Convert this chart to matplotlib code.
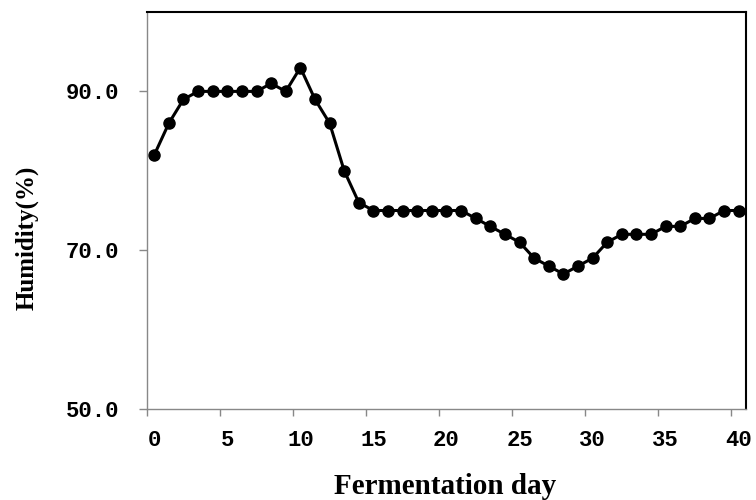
import matplotlib
matplotlib.use("Agg")
import matplotlib.pyplot as plt
import numpy as np

days = list(range(0, 41))
humidity = [82, 86, 89, 90, 90, 90, 90, 90, 91, 90,
            93, 89, 86, 80, 76, 75, 75, 75, 75, 75,
            75, 75, 74, 73, 72, 71, 69, 68, 67, 68,
            69, 71, 72, 72, 72, 73, 73, 74, 74, 75, 75]
x_labels = [0, 5, 10, 15, 20, 25, 30, 35, 40]
y_ticks = [50, 70, 90]

fig = plt.figure(figsize=(7.56, 5.0), dpi=100)
ax = fig.add_axes([0.1944, 0.182, 0.7924, 0.794])

ax.plot(days, humidity, color="black", lw=2.2, marker="o", markersize=8,
        markerfacecolor="black", markeredgecolor="black")

ax.set_xlim(-0.5, 40.5)
ax.set_ylim(50, 100)

# tick marks between categories (Excel style), labels centered on categories
ax.set_xticks([t - 0.5 for t in x_labels])
ax.set_xticklabels([])
ax.set_xticks(x_labels, minor=True)
ax.set_xticklabels([str(v) for v in x_labels], minor=True)
ax.tick_params(axis="x", which="major", direction="out", length=5, width=1, color="#888888")
ax.tick_params(axis="x", which="minor", length=0, pad=15)

ax.set_yticks(y_ticks)
ax.set_yticklabels([f"{v:.1f}" for v in y_ticks])
ax.tick_params(axis="y", direction="out", length=6, width=1, color="#888888", pad=14)

for lab in ax.get_xticklabels(minor=True) + ax.get_yticklabels():
    lab.set_fontfamily("Liberation Mono")
    lab.set_fontweight("bold")
    lab.set_fontsize(16)

for s in ["left", "bottom"]:
    ax.spines[s].set_color("#888888")
    ax.spines[s].set_linewidth(1.0)
for s in ["top", "right"]:
    ax.spines[s].set_color("black")
    ax.spines[s].set_linewidth(1.5)

fig.text(0.589, 0.026, "Fermentation day", ha="center", va="center",
         fontfamily="Liberation Serif", fontweight="bold", fontsize=21)
fig.text(0.035, 0.524, "Humidity(%)", ha="center", va="center", rotation=90,
         fontfamily="Liberation Serif", fontweight="bold", fontsize=18)

fig.savefig("out.png", dpi=100)
